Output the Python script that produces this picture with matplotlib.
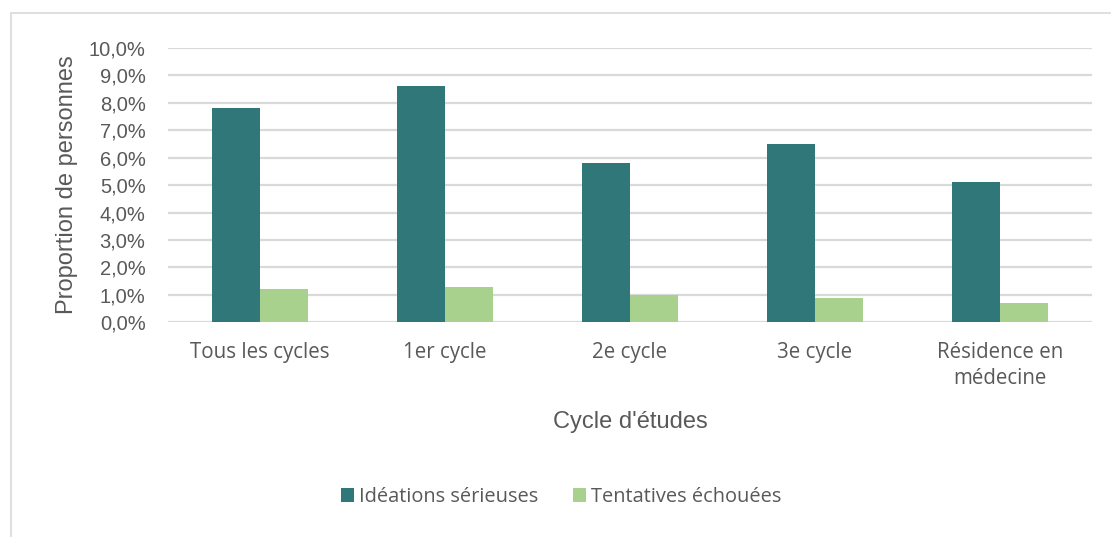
import numpy as np
import matplotlib
matplotlib.use("Agg")
from matplotlib import pyplot as plt
from matplotlib.patches import Rectangle

# Data
categories = ["Tous les cycles", "1er cycle", "2e cycle", "3e cycle", "Résidence en\nmédecine"]
ideations = [7.8, 8.6, 5.8, 6.5, 5.1]
tentatives = [1.2, 1.3, 1.0, 0.9, 0.7]
yticks = np.arange(0, 11, 1)

dark = "#30777A"
light = "#A9D18E"
txt = "#595959"
grid = "#D9D9D9"

fig = plt.figure(figsize=(11.11, 5.37), dpi=100)
ax = fig.add_axes([0.151, 0.400, 0.832, 0.5106])

x = np.arange(len(categories))
w = 0.26
ax.bar(x - w/2, ideations, w, color=dark, label="Idéations sérieuses", zorder=3)
ax.bar(x + w/2, tentatives, w, color=light, label="Tentatives échouées", zorder=3)

ax.set_xlim(-0.5, len(categories) - 0.5)
ax.set_ylim(0, 10)
ax.set_yticks(yticks)
ax.set_yticklabels([f"{v:.1f}%".replace(".", ",") for v in yticks],
                   fontfamily="Liberation Sans", fontsize=14.5, color=txt)
ax.set_xticks(x)
ax.set_xticklabels(categories, fontfamily="Open Sans", fontsize=14.8, color=txt,
                   linespacing=1.35)
ax.tick_params(axis="both", length=0)
ax.tick_params(axis="y", pad=16)
ax.tick_params(axis="x", pad=14)
ax.yaxis.grid(True, color=grid, linewidth=1.6, zorder=0)
for s in ax.spines.values():
    s.set_visible(False)

ax.set_ylabel("Proportion de personnes", fontfamily="Liberation Sans", fontsize=17,
              color=txt, labelpad=8)
ax.set_xlabel("Cycle d'études", fontfamily="Liberation Sans", fontsize=17,
              color=txt, labelpad=16)

leg = fig.legend(loc="center", bbox_to_anchor=(0.505, 1 - 497/537), ncol=2, frameon=False,
                 prop={"family": "Open Sans", "size": 14.4}, handlelength=0.65,
                 handleheight=0.65, handletextpad=0.25, columnspacing=1.75)
for t in leg.get_texts():
    t.set_color(txt)

# chart frame
fig.patches.append(Rectangle((11/1111, -0.1), 1.2, 1 - 13/537 + 0.1, transform=fig.transFigure,
                             fill=False, edgecolor="#D9D9D9", linewidth=1.2))

fig.savefig("out.png", dpi=100, facecolor="white")
